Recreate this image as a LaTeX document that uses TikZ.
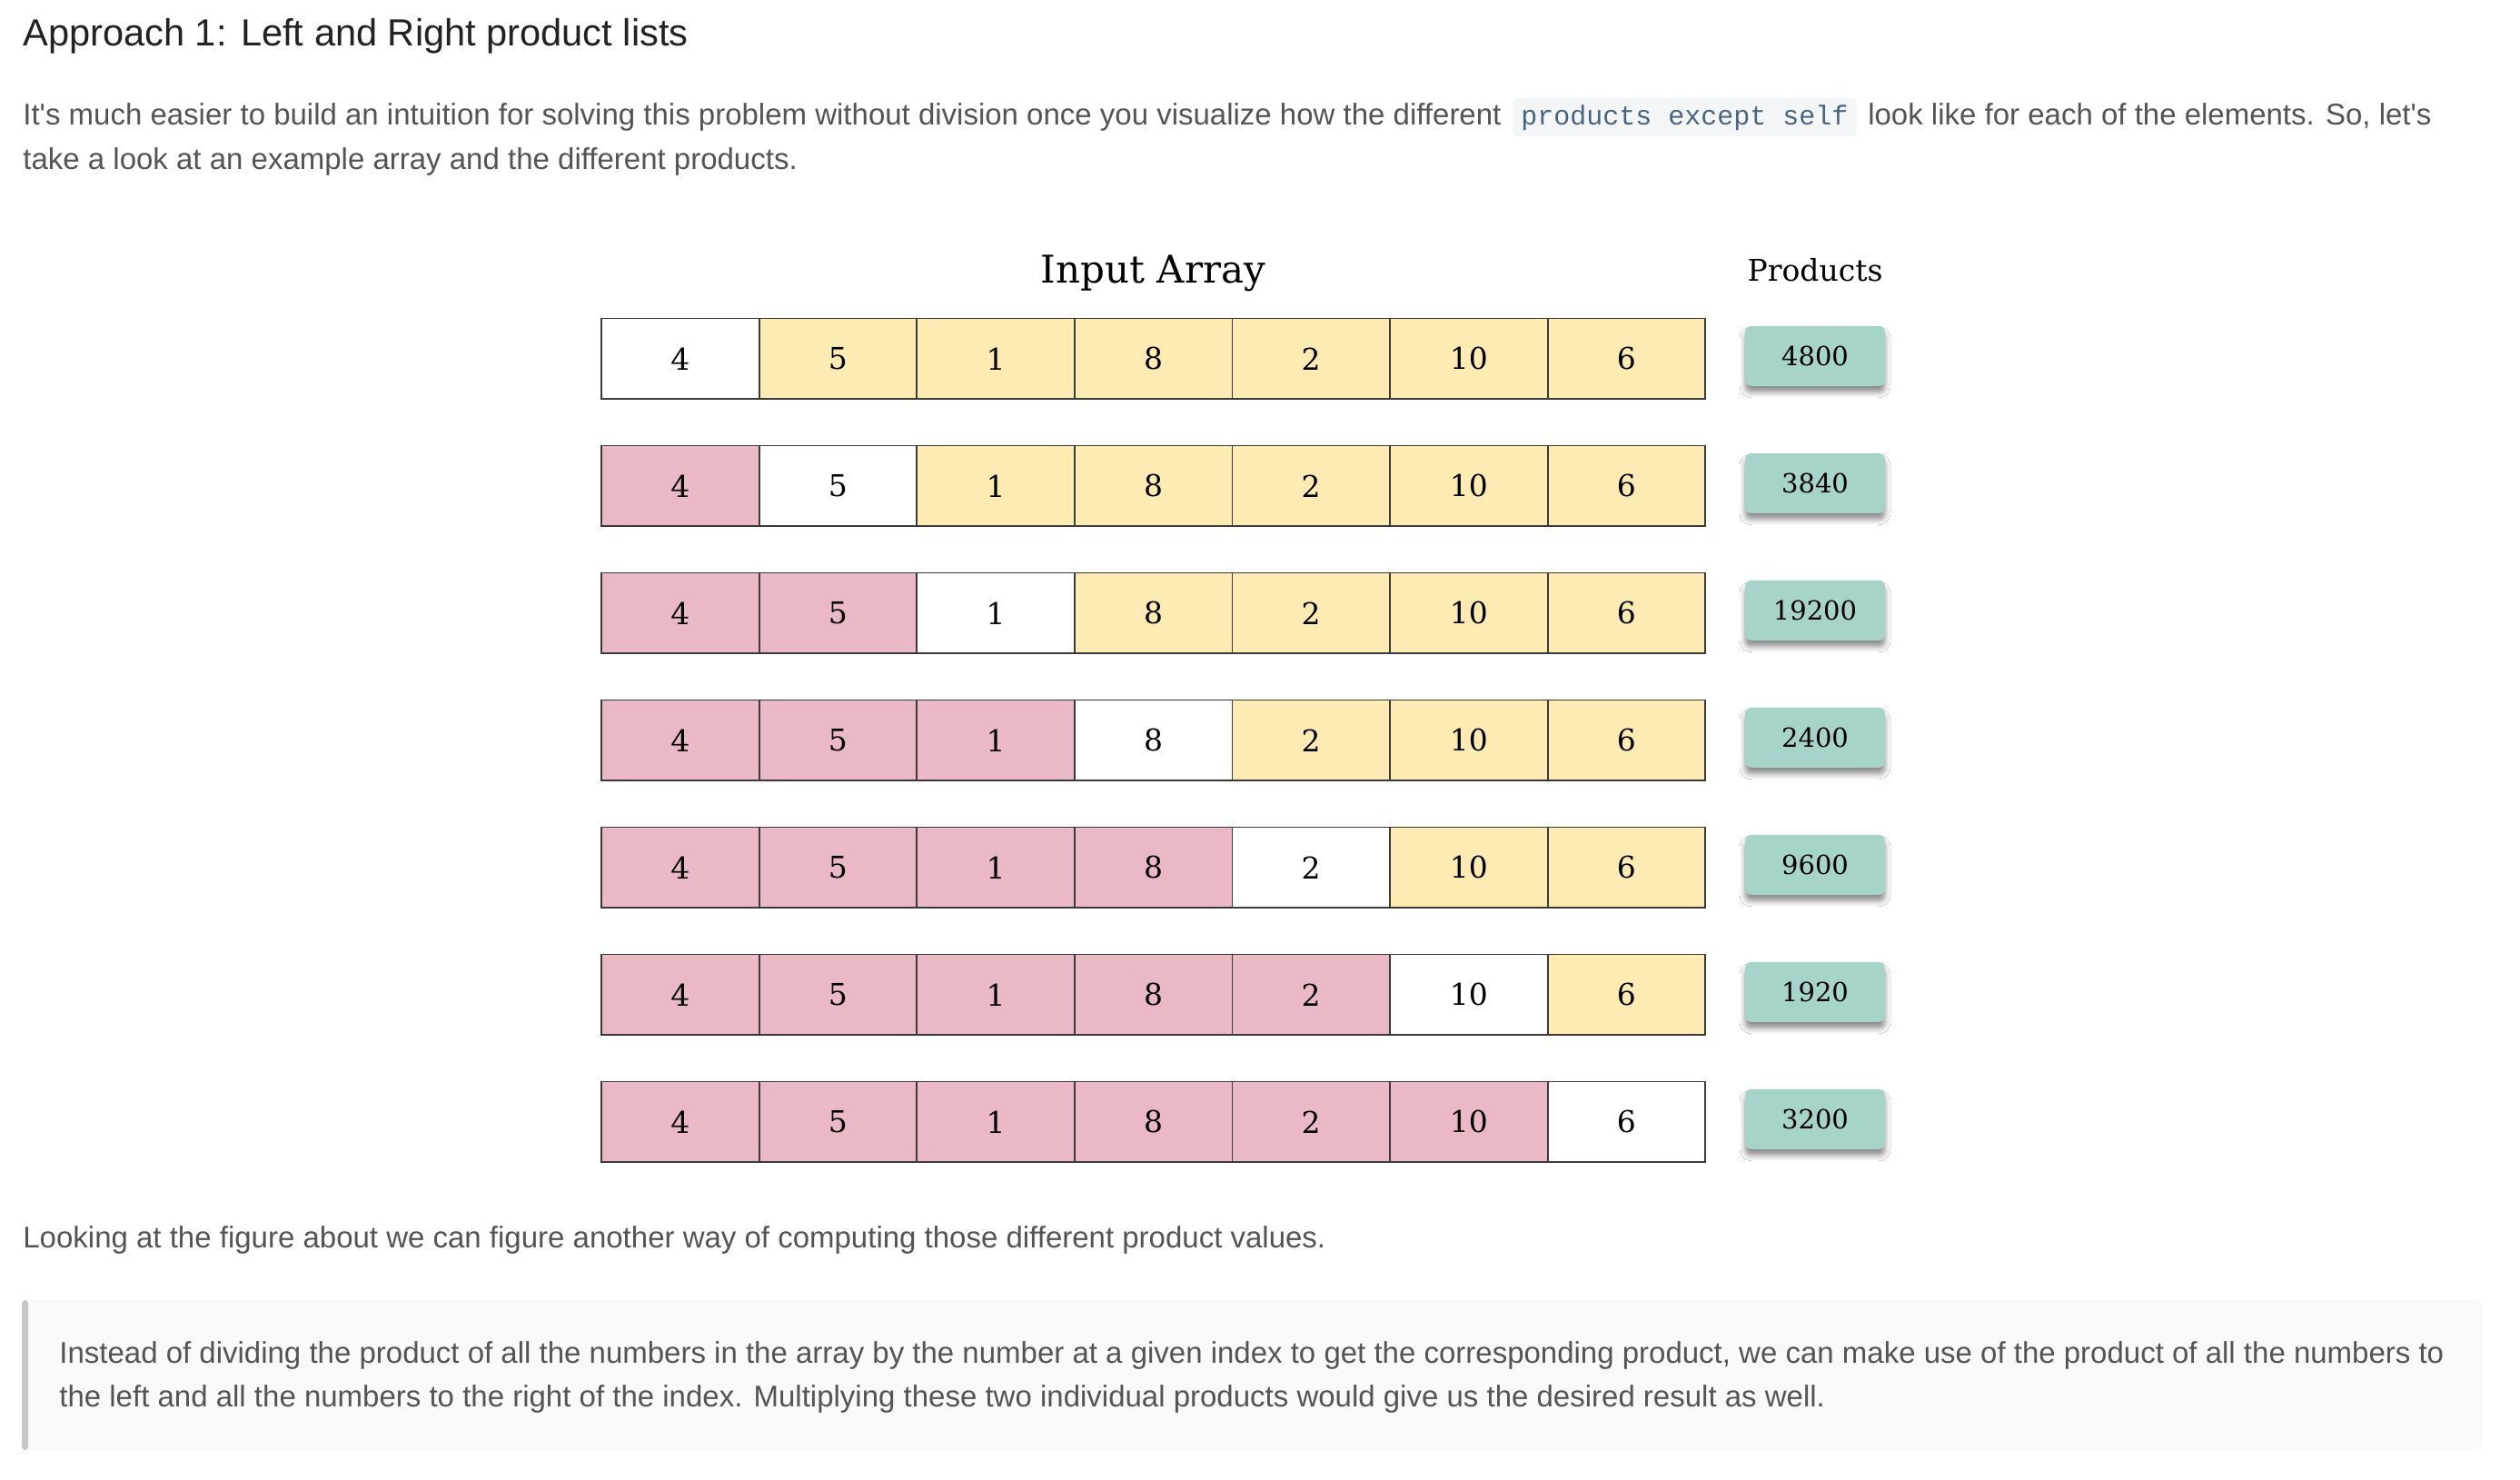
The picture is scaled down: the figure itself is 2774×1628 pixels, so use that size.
\documentclass[tikz,border=0pt]{standalone}
\usepackage{fontspec}
\setmainfont{Liberation Sans}
\setmonofont{Liberation Mono}
\newfontfamily\arrfont{DejaVu Serif}
\usepackage{tikz}
\usetikzlibrary{positioning,shadows.blur}
\definecolor{leftfill}{HTML}{EBB8C5}
\definecolor{rightfill}{HTML}{FDEBB3}
\definecolor{prodfill}{HTML}{A7D4CA}
\definecolor{cellline}{HTML}{3A3A3A}
\definecolor{titlegray}{HTML}{222222}
\definecolor{bodygray}{HTML}{545454}
\definecolor{codetext}{HTML}{476582}
\definecolor{codebg}{HTML}{F3F5F7}
\definecolor{quotebg}{HTML}{F9F9F9}
\definecolor{quotebar}{HTML}{C6C6C6}

\begin{document}
\begin{tikzpicture}[
  x=0.5pt, y=-0.5pt,
  cell/.style={draw=cellline, line width=0.9pt, minimum width=86.8pt, minimum height=44.25pt, inner sep=0pt, outer sep=0pt, font=\arrfont\fontsize{16.5}{18}\selectfont},
  prod/.style={fill=prodfill, rounded corners=3.5pt, minimum width=77pt, minimum height=33pt, inner sep=0pt, font=\arrfont\fontsize{14.5}{16}\selectfont,
    blur shadow={shadow xshift=0pt, shadow yshift=-3.5pt, shadow blur radius=3pt, shadow opacity=45}},
  heading/.style={font=\arrfont\fontsize{21}{24}\selectfont, inner sep=0pt},
  bodytext/.style={font=\fontsize{16.5}{20}\selectfont, text=bodygray, inner sep=0pt},
  codespan/.style={fill=codebg, rounded corners=3pt, text=codetext, font=\ttfamily\fontsize{15}{18}\selectfont, inner xsep=4.5pt, inner ysep=0pt, minimum height=21pt}
]
  \useasboundingbox (0,0) rectangle (2774,1628);
  \fill[white] (0,0) rectangle (2774,1628);

  % header and intro text
  \node[anchor=base west, inner sep=0pt, text=titlegray, font=\fontsize{20.8}{24}\selectfont] (title) at (25,50) {Approach 1: Left and Right product lists};
  \node[bodytext, anchor=base west] (intro1) at (25,137) {It\textquotesingle s much easier to build an intuition for solving this problem without division once you visualize how the different};
  \node[codespan, right=6pt of intro1.base east, anchor=base west] (code) {products except self};
  \node[bodytext, right=6pt of code.base east, anchor=base west] (intro2) {look like for each of the elements. So, let\textquotesingle s};
  \node[bodytext, anchor=base west] (intro3) at (25,186) {take a look at an example array and the different products.};

  % array rows
  \node[heading, anchor=base] (inputlbl) at (1269.5,311) {Input Array};
  \node[heading, anchor=base, font=\arrfont\fontsize{16.5}{18}\selectfont] (prodlbl) at (1998,309) {Products};
  \foreach \p [count=\i] in {4800,3840,19200,2400,9600,1920,3200} {
    \foreach \v [count=\j] in {4,5,1,8,2,10,6} {
      \ifnum\j<\i \def\cellfill{leftfill}\else\ifnum\j=\i \def\cellfill{white}\else\def\cellfill{rightfill}\fi\fi
      \node[cell, fill=\cellfill] (c\i-\j) at ({662+173.6*(\j-0.5)},{394.75+140*(\i-1)}) {\v};
    }
    \node[prod] (p\i) at (1998,{391.75+140*(\i-1)}) {\p};
  }

  % closing text
  \node[bodytext, anchor=base west] (outro) at (25,1373) {Looking at the figure about we can figure another way of computing those different product values.};
  \fill[quotebg, rounded corners=3pt] (24,1431) rectangle (2733,1596);
  \fill[quotebar, rounded corners=2pt] (24,1431) rectangle (31,1596);
  \node[bodytext, anchor=base west] (quote1) at (65,1500) {Instead of dividing the product of all the numbers in the array by the number at a given index to get the corresponding product, we can make use of the product of all the numbers to};
  \node[bodytext, anchor=base west] (quote2) at (65,1548) {the left and all the numbers to the right of the index. Multiplying these two individual products would give us the desired result as well.};
\end{tikzpicture}
\end{document}
